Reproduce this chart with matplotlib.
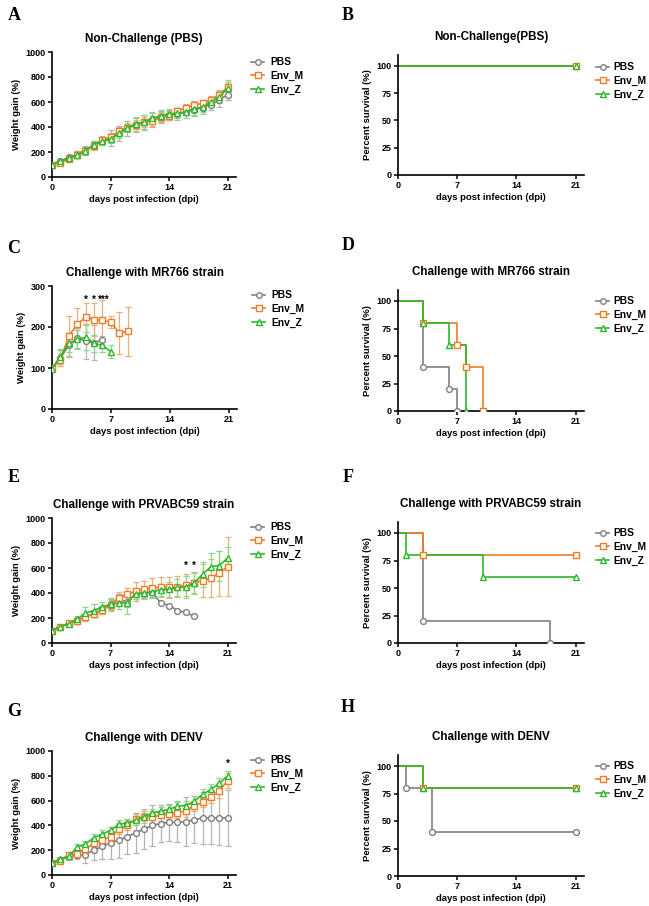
import matplotlib
matplotlib.use("Agg")
import matplotlib.pyplot as plt
from matplotlib.lines import Line2D

plt.rcParams['font.family'] = ['Liberation Sans', 'DejaVu Sans']
plt.rcParams['font.weight'] = 'bold'

W, H = 649, 906

groups = ["PBS", "Env_M", "Env_Z"]
colors = {"PBS": "#808080", "Env_M": "#f07d26", "Env_Z": "#2db82d"}
err_colors = {"PBS": "#b4b4b4", "Env_M": "#e6b07c", "Env_Z": "#8ad88a"}
markers = {"PBS": "o", "Env_M": "s", "Env_Z": "^"}

days21 = list(range(22))

# ---- A: non-challenge weight
a_pbs = [100, 125, 160, 180, 215, 255, 285, 310, 350, 390, 415, 440, 460, 480, 495, 505, 520, 540, 555, 580, 615, 660]
a_pbs_sd = [10, 15, 20, 30, 35, 30, 30, 65, 60, 60, 55, 55, 60, 50, 40, 45, 50, 50, 50, 45, 55, 40]
a_m = [100, 115, 145, 180, 210, 250, 300, 320, 365, 395, 420, 440, 445, 480, 490, 525, 555, 575, 590, 615, 660, 720]
a_m_sd = [10, 15, 20, 30, 25, 30, 25, 30, 35, 30, 35, 40, 40, 40, 35, 30, 30, 30, 30, 35, 40, 40]
a_z = [100, 125, 150, 175, 210, 260, 285, 305, 350, 395, 425, 440, 470, 490, 505, 510, 520, 545, 560, 600, 640, 710]
a_z_sd = [10, 15, 20, 25, 25, 25, 25, 30, 35, 35, 55, 60, 45, 45, 40, 40, 50, 50, 40, 40, 45, 70]

# ---- C: MR766 weight
c_pbs_x = [0, 1, 2, 3, 4, 5, 6]
c_pbs = [100, 125, 155, 172, 165, 162, 168]
c_pbs_sd = [5, 20, 25, 25, 42, 42, 10]
c_m_x = [0, 1, 2, 3, 4, 5, 6, 7, 8, 9]
c_m = [100, 120, 178, 207, 224, 218, 216, 212, 185, 190]
c_m_sd = [5, 15, 50, 40, 35, 40, 50, 15, 52, 60]
c_z_x = [0, 1, 2, 3, 4, 5, 6, 7]
c_z = [98, 128, 160, 170, 175, 160, 155, 140]
c_z_sd = [5, 18, 20, 22, 30, 20, 15, 15]

# ---- E: PRVABC59 weight
e_pbs_x = list(range(18))
e_pbs = [100, 130, 155, 180, 210, 235, 265, 310, 355, 325, 395, 400, 405, 320, 300, 260, 245, 213]
e_pbs_sd = [10, 15, 20, 20, 25, 25, 30, 40, 40, 40, 40, 40, 40, 0, 0, 0, 0, 0]
e_m = [100, 130, 160, 180, 205, 235, 265, 305, 360, 390, 415, 430, 440, 445, 445, 450, 465, 480, 500, 520, 560, 610]
e_m_sd = [10, 15, 20, 25, 25, 30, 35, 40, 45, 50, 75, 65, 80, 80, 85, 85, 90, 90, 130, 150, 180, 235]
e_z = [100, 130, 155, 190, 240, 260, 290, 310, 320, 320, 395, 400, 410, 425, 430, 445, 450, 480, 550, 610, 620, 680]
e_z_sd = [10, 15, 20, 25, 45, 50, 40, 50, 50, 90, 40, 45, 50, 50, 60, 70, 90, 80, 100, 110, 120, 90]

# ---- G: DENV weight
g_pbs = [100, 120, 150, 160, 165, 200, 230, 260, 280, 310, 340, 370, 400, 415, 425, 425, 430, 445, 460, 460, 460, 460]
g_pbs_sd = [10, 20, 25, 30, 65, 80, 100, 130, 140, 140, 160, 160, 165, 150, 150, 160, 200, 190, 210, 210, 220, 225]
g_m = [100, 115, 165, 170, 210, 255, 285, 305, 370, 400, 450, 470, 470, 480, 495, 500, 520, 560, 585, 630, 680, 760]
g_m_sd = [10, 15, 20, 25, 25, 30, 35, 40, 40, 40, 45, 50, 50, 45, 40, 40, 50, 40, 40, 50, 60, 60]
g_z = [95, 130, 150, 225, 250, 300, 330, 360, 410, 420, 440, 470, 500, 515, 530, 555, 560, 595, 650, 690, 740, 800]
g_z_sd = [10, 15, 20, 25, 25, 30, 30, 30, 30, 30, 35, 30, 35, 35, 35, 40, 40, 40, 40, 40, 40, 40]

# ---- survival curves (time, percent)
b_surv = {"PBS": ([0, 21], [100, 100]), "Env_M": ([0, 21], [100, 100]), "Env_Z": ([0, 21], [100, 100])}
d_surv = {"PBS": ([0, 3, 6, 7], [100, 40, 20, 0]),
          "Env_M": ([0, 3, 7, 8, 10], [100, 80, 60, 40, 0]),
          "Env_Z": ([0, 3, 6, 8], [100, 80, 60, 0])}
f_surv = {"PBS": ([0, 3, 18], [100, 20, 0]),
          "Env_M": ([0, 3, 21], [100, 80, 80]),
          "Env_Z": ([0, 1, 10, 21], [100, 80, 60, 60])}
h_surv = {"PBS": ([0, 1, 4, 21], [100, 80, 40, 40]),
          "Env_M": ([0, 3, 21], [100, 80, 80]),
          "Env_Z": ([0, 3, 21], [100, 80, 80])}


def px_axes(fig, left, top, right, bottom):
    return fig.add_axes([left / W, 1 - bottom / H, (right - left) / W, (bottom - top) / H])


def style(ax, xlabel, ylabel):
    for s in ["top", "right"]:
        ax.spines[s].set_visible(False)
    for s in ["left", "bottom"]:
        ax.spines[s].set_linewidth(1.2)
    ax.tick_params(length=3, width=1.1, labelsize=6.5, pad=1.5)
    ax.set_xlim(0, 22)
    ax.set_xticks([0, 7, 14, 21])
    ax.set_xlabel(xlabel, fontsize=6.8, fontweight="bold", labelpad=2)
    ax.set_ylabel(ylabel, fontsize=6.8, fontweight="bold", labelpad=3)
    for lab in ax.get_xticklabels() + ax.get_yticklabels():
        lab.set_fontweight("bold")


def legend(ax, lx, ly, pad=0.6):
    handles = [Line2D([0], [0], color=colors[g], marker=markers[g], mfc="white",
                      mec=colors[g], ms=4, lw=1.2, mew=1) for g in groups]
    ax.legend(handles, groups, loc="upper left", bbox_to_anchor=(lx / W, 1 - ly / H),
              bbox_transform=ax.figure.transFigure, frameon=False, handlelength=1.25,
              handletextpad=pad, labelspacing=0.35, borderpad=0, prop={"size": 7.4, "weight": "bold"})


def weight_panel(fig, box, title, series, lx, ly, ylim, yticks):
    ax = px_axes(fig, *box)
    for g, x, y, sd in series:
        ax.errorbar(x, y, yerr=sd, fmt="none", ecolor=err_colors[g], elinewidth=0.9,
                    capsize=2, capthick=0.9, zorder=2)
    for g, x, y, sd in series:
        ax.plot(x, y, color=colors[g], marker=markers[g], mfc="white", mec=colors[g],
                ms=4.2, lw=1.2, mew=1, zorder=3)
    ax.set_ylim(*ylim)
    ax.set_yticks(yticks)
    ax.set_title(title, fontsize=8.4, fontweight="bold", pad=7)
    style(ax, "days post infection (dpi)", "Weight gain (%)")
    legend(ax, lx, ly)
    return ax


def survival_panel(fig, box, title, curves, lx, ly):
    ax = px_axes(fig, *box)
    for g in groups:
        t, s = curves[g]
        ax.step(t, s, where="post", color=colors[g], lw=1.2, zorder=2)
        ax.plot(t[1:], s[1:], ls="none", marker=markers[g], mfc="white", mec=colors[g],
                ms=4.2, mew=1, zorder=3)
    ax.set_ylim(0, 110)
    ax.set_yticks([0, 25, 50, 75, 100])
    ax.set_title(title, fontsize=8.4, fontweight="bold", pad=11)
    style(ax, "days post infection (dpi)", "Percent survival (%)")
    legend(ax, lx, ly, pad=0.45)
    return ax


fig = plt.figure(figsize=(W / 100, H / 100), dpi=100)

weight_panel(fig, (52, 52, 236, 177), "Non-Challenge (PBS)",
             [("PBS", days21, a_pbs, a_pbs_sd), ("Env_M", days21, a_m, a_m_sd), ("Env_Z", days21, a_z, a_z_sd)],
             246, 52, (0, 1000), [0, 200, 400, 600, 800, 1000])
survival_panel(fig, (398, 55, 584, 175), "Non-Challenge(PBS)", b_surv, 591, 57)

axc = weight_panel(fig, (52, 286, 237, 409), "Challenge with MR766 strain",
                   [("PBS", c_pbs_x, c_pbs, c_pbs_sd), ("Env_M", c_m_x, c_m, c_m_sd), ("Env_Z", c_z_x, c_z, c_z_sd)],
                   247, 285, (0, 300), [0, 100, 200, 300])
for x, txt in [(4, "*"), (5, "*"), (6.1, "***")]:
    axc.text(x, 255, txt, ha="center", va="bottom", fontsize=7, fontweight="bold")
survival_panel(fig, (398, 290, 584, 411), "Challenge with MR766 strain", d_surv, 591, 291)

axe = weight_panel(fig, (52, 518, 236, 643), "Challenge with PRVABC59 strain",
                   [("PBS", e_pbs_x, e_pbs, e_pbs_sd), ("Env_M", days21, e_m, e_m_sd), ("Env_Z", days21, e_z, e_z_sd)],
                   246, 517, (0, 1000), [0, 200, 400, 600, 800, 1000])
for x in [16, 17]:
    axe.text(x, 575, "*", ha="center", va="bottom", fontsize=7, fontweight="bold")
survival_panel(fig, (398, 522, 584, 643), "Challenge with PRVABC59 strain", f_surv, 591, 523)

axg = weight_panel(fig, (52, 751, 236, 875), "Challenge with DENV",
                   [("PBS", days21, g_pbs, g_pbs_sd), ("Env_M", days21, g_m, g_m_sd), ("Env_Z", days21, g_z, g_z_sd)],
                   246, 750, (0, 1000), [0, 200, 400, 600, 800, 1000])
axg.text(21, 855, "*", ha="center", va="bottom", fontsize=7, fontweight="bold")
survival_panel(fig, (398, 755, 584, 876), "Challenge with DENV", h_surv, 591, 756)

for letter, x, y in [("A", 14, 15), ("B", 348, 16), ("C", 14, 248), ("D", 348, 246),
                     ("E", 14, 478), ("F", 348, 477), ("G", 14, 712), ("H", 348, 707)]:
    fig.text(x / W, 1 - y / H, letter, ha="center", va="center", fontsize=13,
             fontweight="bold", family=["Liberation Serif", "DejaVu Serif"])

fig.savefig("out.png", dpi=100)
